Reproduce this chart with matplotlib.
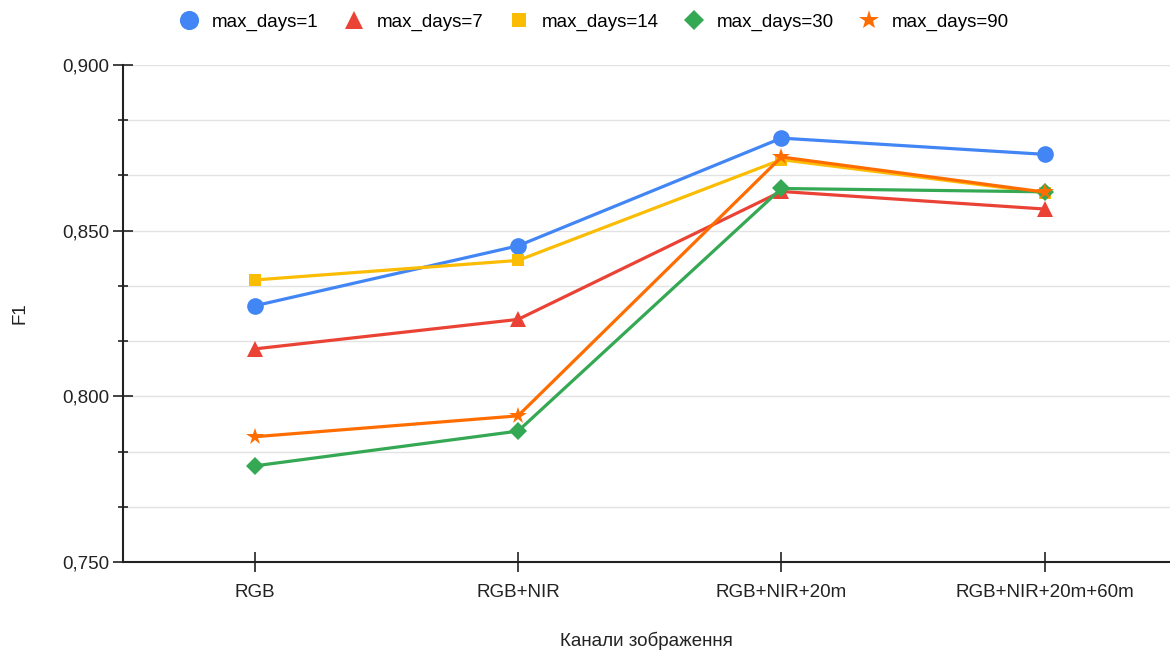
import matplotlib.pyplot as plt
from matplotlib.ticker import FuncFormatter, MultipleLocator

plt.rcParams['font.family'] = ['Liberation Sans', 'DejaVu Sans']
plt.rcParams['font.size'] = 13.5

channels = ["RGB", "RGB+NIR", "RGB+NIR+20m", "RGB+NIR+20m+60m"]

f1_days_1 = [0.8273, 0.8454, 0.8779, 0.8730]
f1_days_7 = [0.8143, 0.8232, 0.8618, 0.8565]
f1_days_14 = [0.8351, 0.8410, 0.8714, 0.8614]
f1_days_30 = [0.7790, 0.7895, 0.8627, 0.8617]
f1_days_90 = [0.7878, 0.7941, 0.8722, 0.8616]

series = [
    ("max_days=1", f1_days_1, "#4285F4", "o", 12),
    ("max_days=7", f1_days_7, "#EA4335", "^", 11),
    ("max_days=14", f1_days_14, "#FBBC04", "s", 9),
    ("max_days=30", f1_days_30, "#34A853", "D", 9),
    ("max_days=90", f1_days_90, "#FF6D01", "*", 13),
]

fig = plt.figure(figsize=(11.7, 6.52), dpi=100)
ax = fig.add_axes([0.105, 0.138, 0.895, 0.7625])

x = range(len(channels))
for label, vals, color, marker, ms in series:
    ax.plot(x, vals, color=color, lw=2.3, marker=marker, ms=ms,
            markeredgewidth=0, label=label, zorder=3)

ax.set_xlim(-0.5, 3.475)
ax.set_ylim(0.75, 0.90)
ax.set_xticks(list(x))
ax.set_xticklabels(channels)
ax.yaxis.set_major_locator(MultipleLocator(0.05))
ax.yaxis.set_minor_locator(MultipleLocator(0.05 / 3))
ax.yaxis.set_major_formatter(FuncFormatter(lambda v, _: f"{v:.3f}".replace(".", ",")))

ax.grid(axis="y", which="both", color="#e3e3e3", lw=1, zorder=0)
ax.tick_params(axis="y", which="major", direction="inout", length=14, width=1.2,
               colors="#222222", pad=3)
ax.tick_params(axis="y", which="minor", direction="inout", length=7, width=1.2,
               colors="#222222")
ax.tick_params(axis="x", direction="inout", length=14, width=1.2,
               colors="#222222", pad=9)
for side in ("top", "right"):
    ax.spines[side].set_visible(False)
for side in ("left", "bottom"):
    ax.spines[side].set_color("#222222")
    ax.spines[side].set_linewidth(1.5)

ax.set_xlabel("Канали зображення", color="#222222", labelpad=22)
ax.set_ylabel("F1", color="#222222", labelpad=24)

leg = fig.legend(loc="upper center", bbox_to_anchor=(0.508, 1.005), ncol=5,
                 frameon=False, handlelength=1.0, handletextpad=0.7,
                 columnspacing=1.4, markerscale=1.15)
for h in leg.legend_handles:
    h.set_linestyle("none")

fig.savefig("out.png", dpi=100)
